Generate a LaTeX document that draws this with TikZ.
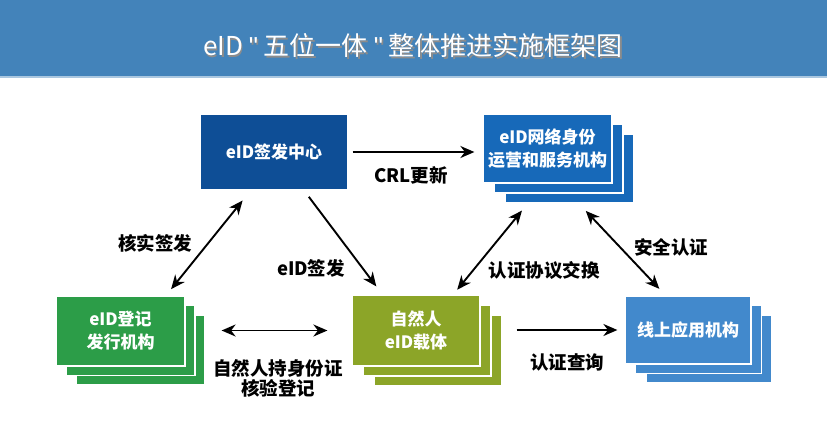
\documentclass[tikz,border=0pt]{standalone}
\usepackage{fontspec}
\setmainfont{Noto Sans CJK SC}
\newfontfamily\quotefont{Liberation Sans}
\usetikzlibrary{arrows.meta}
\usetikzlibrary{positioning}
\definecolor{barblue}{RGB}{67,131,186}
\definecolor{caBlue}{RGB}{14,78,150}
\definecolor{netBlue}{RGB}{23,105,185}
\definecolor{regGreen}{RGB}{44,157,72}
\definecolor{natOlive}{RGB}{140,165,40}
\definecolor{webBlue}{RGB}{66,137,204}
\newcommand\qmark{{\quotefont\symbol{"22}}}
\tikzset{
  card/.style={draw=white, line width=1.2pt, inner sep=0pt, minimum width=129pt,
    minimum height=70pt, align=center, text=white,
    font=\bfseries\fontsize{17}{23}\selectfont},
  link/.style={line width=1.9pt, >={Stealth[length=14pt,width=12pt,inset=4.5pt]}},
  tag/.style={align=center, font=\bfseries\fontsize{18.5}{21}\selectfont}
}

\begin{document}
\begin{tikzpicture}[x=1pt,y=-1pt]
\useasboundingbox (0,0) rectangle (827,428);
\fill[barblue] (0,0) rectangle (827,76);
\fill[barblue!45] (0,76) rectangle (827,78);
\node[text=black!45, font=\fontsize{26}{30}\selectfont] (shade) at (414.5,47.5) {eID \qmark\ 五位一体 \qmark\ 整体推进实施框架图};
\node[text=white, font=\fontsize{26}{30}\selectfont] (title) at (413,46) {eID \qmark\ 五位一体 \qmark\ 整体推进实施框架图};

\node[card, draw=none, fill=caBlue, minimum width=146pt, minimum height=74pt] (ca) at (274,152) {eID签发中心};

\foreach \n/\dx/\dy in {3/22/20,2/11/10}
  \node[card, fill=netBlue, minimum height=69pt] (net\n) at (547.5+\dx,148.5+\dy) {};
\node[card, fill=netBlue, minimum height=69pt] (net) at (547.5,148.5) {eID网络身份\\运营和服务机构};

\foreach \n/\dx/\dy in {3/20/19,2/10/9.5}
  \node[card, fill=regGreen] (reg\n) at (120.5+\dx,331+\dy) {};
\node[card, fill=regGreen] (reg) at (120.5,331) {eID登记\\发行机构};

\foreach \n/\dx/\dy in {3/22/20,2/11/10}
  \node[card, fill=natOlive, minimum width=128pt, minimum height=71pt] (nat\n) at (416+\dx,330.5+\dy) {};
\node[card, fill=natOlive, minimum width=128pt, minimum height=71pt] (nat) at (416,330.5) {自然人\\eID载体};

\foreach \n/\dx/\dy in {3/21/19,2/10.5/9.5}
  \node[card, fill=webBlue, minimum width=126pt, minimum height=68pt] (web\n) at (688+\dx,330+\dy) {};
\node[card, fill=webBlue, minimum width=126pt, minimum height=68pt] (web) at (688,330) {线上应用机构};

\draw[link,->,shorten <=5pt,shorten >=8pt] (ca.east) -- (ca.east -| net.west);
\draw[link,<->,shorten <=8pt,shorten >=14pt] (reg.38) -- (ca.239);
\draw[link,->,shorten <=9pt,shorten >=10pt] (ca.308) -- (nat.133);
\draw[link,<->,shorten <=6pt,shorten >=9pt] (nat.44) -- (net3.220);
\draw[link,<->,shorten <=10pt,shorten >=9pt] (net3.285) -- (web.123);
\draw[link,<->,shorten <=16pt,shorten >=24pt] (nat.west -| reg3.east) -- (nat.west);
\draw[link,->,shorten <=14pt,shorten >=7pt] (web.west -| nat3.east) -- (web.west);

\node[tag] (crl) at (411,175) {CRL更新};
\node[tag] (verify) at (155,243) {核实签发};
\node[tag] (issue) at (311,268) {eID签发};
\node[tag] (proto) at (544,270) {认证协议交换};
\node[tag] (secure) at (671,247) {安全认证};
\node[tag, font=\bfseries\fontsize{18.5}{20}\selectfont] (enrol) at (278,378) {自然人持身份证\\核验登记};
\node[tag] (query) at (567,362) {认证查询};
\end{tikzpicture}
\end{document}
